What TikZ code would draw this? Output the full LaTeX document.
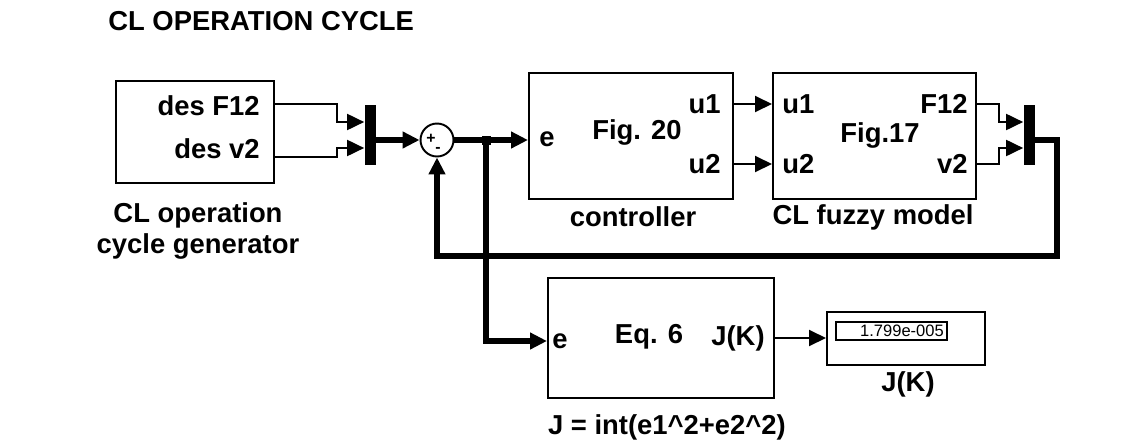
\documentclass[tikz,border=0pt]{standalone}
\usepackage{fontspec}
\setmainfont{Liberation Sans}
\usepackage{tikz}
\usetikzlibrary{arrows.meta, positioning, calc}

\begin{document}
\begin{tikzpicture}[x=0.02cm, y=-0.02cm]
                \tikzset{
                    blockbox/.style={rectangle, draw, line width=1.2pt, anchor=north west, inner sep=0pt},
                    porttext/.style={font=\fontsize{15.6}{17}\selectfont\bfseries, inner sep=0pt},
                    lbl/.style={font=\fontsize{15.6}{18}\selectfont\bfseries, align=center, inner sep=0pt},
                    sig/.style={line width=1.1pt, -{Triangle[length=0.34cm, width=0.32cm]}},
                    bus/.style={line width=3.2pt, -{Triangle[length=0.34cm, width=0.32cm]}},
                    muxbar/.style={fill=black, minimum width=0.22cm, minimum height=1.2cm, inner sep=0pt},
                }
                \useasboundingbox (0,0) rectangle (1143,443);
                \node[lbl, anchor=west] (title) at (108,21) {CL OPERATION CYCLE};

                % Generator
                \node[blockbox, minimum width=3.16cm, minimum height=2.04cm] (gen) at (115,80) {};
                \node[porttext, anchor=east] (gF) at (260,106) {des F12};
                \node[porttext, anchor=east] (gV) at (260,149) {des v2};
                \node[lbl] (genlbl) at (198,231) {CL operation\\cycle generator};

                % Mux and sum
                \node[muxbar] (mux1) at (370,135) {};
                \node[draw, circle, line width=1.1pt, minimum size=0.66cm, inner sep=0pt] (sum) at (437,140) {};
                \node[font=\fontsize{9}{9}\selectfont\bfseries, inner sep=0pt] (plus) at (431,139) {+};
                \node[font=\fontsize{9}{9}\selectfont\bfseries, inner sep=0pt] (minus) at (438,150) {-};
                \node[fill=black, minimum size=0.18cm, inner sep=0pt] (br) at (486,140) {};

                % Controller
                \node[blockbox, minimum width=4.08cm, minimum height=2.52cm] (ctrl) at (528,72) {};
                \node[porttext] (cE) at (547,139) {e};
                \node[porttext] (cFig) at (637,132) {Fig. 20};
                \node[porttext, anchor=east] (cU1) at (721,104) {u1};
                \node[porttext, anchor=east] (cU2) at (721,164) {u2};
                \node[lbl] (ctrllbl) at (633,217) {controller};

                % Fuzzy model
                \node[blockbox, minimum width=4.06cm, minimum height=2.52cm] (fuz) at (772,72) {};
                \node[porttext, anchor=west] (fU1) at (782,104) {u1};
                \node[porttext, anchor=west] (fU2) at (782,164) {u2};
                \node[porttext] (fFig) at (880,135) {Fig.17};
                \node[porttext, anchor=east] (fF) at (968,104) {F12};
                \node[porttext, anchor=east] (fV) at (968,164) {v2};
                \node[lbl] (fuzlbl) at (873,217) {CL fuzzy model};
                \node[muxbar] (mux2) at (1029,135) {};
                \coordinate (fb) at (1057,256);

                % Cost
                \node[blockbox, minimum width=4.52cm, minimum height=2.4cm] (eqb) at (547,277) {};
                \node[porttext] (eE) at (560,341) {e};
                \node[porttext] (eFig) at (649,337) {Eq. 6};
                \node[porttext, anchor=east] (eJ) at (765,338) {J(K)};
                \node[lbl] (eqlbl) at (667,427) {J = int(e1\textasciicircum 2+e2\textasciicircum 2)};
                \node[blockbox, minimum width=3.16cm, minimum height=1.06cm] (disp) at (826,311) {};
                \node[draw, line width=0.9pt, anchor=north west, minimum height=0.36cm, text width=2.1cm,
                    align=right, inner sep=0.06cm, font=\fontsize{9.4}{9.4}\selectfont] (dval) at (835,321) {1.799e-005};
                \node[lbl] (displbl) at (908,384) {J(K)};

                % Connections
                \draw[sig] ($(gen.north east)+(0,24)$) -| ($(mux1.west)+(-27,-13)$) -- ($(mux1.west)+(0,-13)$);
                \draw[sig] ($(gen.north east)+(0,77)$) -| ($(mux1.west)+(-27,13)$) -- ($(mux1.west)+(0,13)$);
                \draw[bus] (mux1.east |- sum) -- (sum.west);
                \draw[bus] (sum.east) -- (ctrl.west |- sum);
                \draw[sig] (ctrl.east |- cU1) -- (fuz.west |- cU1);
                \draw[sig] (ctrl.east |- cU2) -- (fuz.west |- cU2);
                \draw[sig] (fuz.east |- fF) -| ($(mux2.west)+(-24,-13)$) -- ($(mux2.west)+(0,-13)$);
                \draw[sig] (fuz.east |- fV) -| ($(mux2.west)+(-24,13)$) -- ($(mux2.west)+(0,13)$);
                \draw[bus] (mux2.east |- sum) -| (fb) -| (sum.south);
                \draw[bus] (br.center) |- (eqb.west |- eE);
                \draw[sig] (eqb.east |- eJ) -- (disp.west |- eJ);
            \end{tikzpicture}
\end{document}
